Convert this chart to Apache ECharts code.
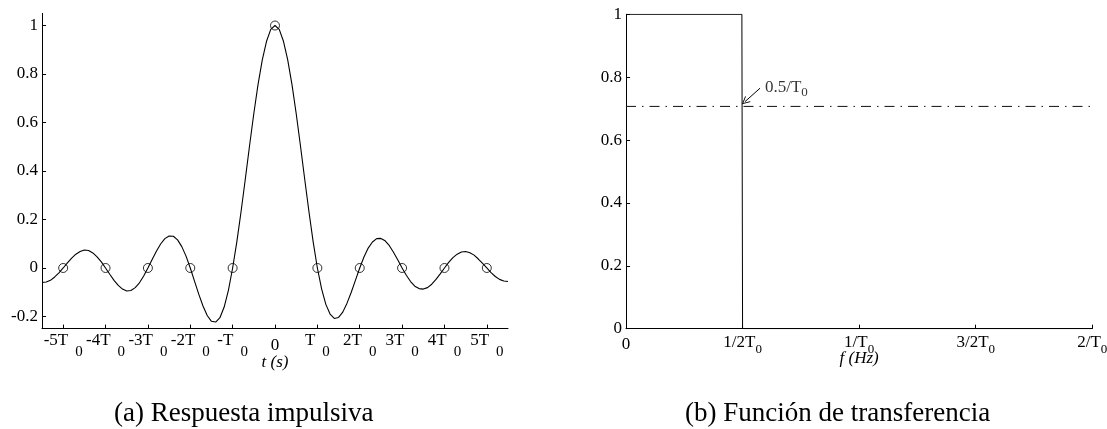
<!DOCTYPE html>
<html>
<head>
<meta charset="utf-8">
<script src="https://cdn.jsdelivr.net/npm/echarts@6/dist/echarts.min.js"></script>
<style>
  html, body { margin: 0; padding: 0; background: #fff; }
  #chart { width: 1107px; height: 429px; }
</style>
</head>
<body>
<div id="chart"></div>
<script>
// (a) impulse response h(t), sampled every 0.1 T0 from -5.5 T0 to 5.5 T0
const tStart = -5.5;
const tStep = 0.1;
const hValues = [
  -0.060, -0.058, -0.051, -0.037, -0.020, 0.000, 0.021, 0.041, 0.057, 0.068,
   0.074,  0.072,  0.062,  0.046,  0.025, 0.000, -0.026, -0.051, -0.072, -0.087,
  -0.095, -0.093, -0.081, -0.061, -0.033, 0.000, 0.035, 0.069, 0.099, 0.121,
   0.132,  0.131,  0.116,  0.088,  0.049, 0.000, -0.054, -0.108, -0.157, -0.196,
  -0.220, -0.223, -0.205, -0.161, -0.092, 0.000,
   0.109,  0.234,  0.368,  0.505,  0.637, 0.757, 0.858, 0.935, 0.984, 1.000,
   0.984,  0.935,  0.858,  0.757,  0.637, 0.505, 0.368, 0.234, 0.109,
   0.000, -0.086, -0.150, -0.190, -0.208, -0.204, -0.182, -0.145, -0.100, -0.050,
   0.000,  0.045,  0.082,  0.107,  0.121,  0.122,  0.112,  0.092,  0.064,  0.033,
   0.000, -0.030, -0.056, -0.075, -0.085, -0.087, -0.081, -0.067, -0.047, -0.024,
   0.000,  0.023,  0.043,  0.057,  0.066,  0.068,  0.063,  0.053,  0.037,  0.019,
   0.000, -0.019, -0.035, -0.047, -0.054, -0.056
];

// sampling instants marked with circles (multiples of T0)
const sampleT = [-5, -4, -3, -2, -1, 0, 1, 2, 3, 4, 5];
const sampleH = [0, 0, 0, 0, 0, 1, 0, 0, 0, 0, 0];

// tick labels of the time axis: [main text, subscript]
const tTicks = [-5, -4, -3, -2, -1, 0, 1, 2, 3, 4, 5];
const tTickLabels = [
  ['-5T', '0'], ['-4T', '0'], ['-3T', '0'], ['-2T', '0'], ['-T', '0'],
  ['0', ''],
  ['T', '0'], ['2T', '0'], ['3T', '0'], ['4T', '0'], ['5T', '0']
];
const hTicks = [-0.2, 0, 0.2, 0.4, 0.6, 0.8, 1];

// (b) transfer function |H(f)| (f in units of 1/T0)
const fValues = [0, 0.497, 0.5, 2];
const HValues = [1, 1, 0, 0];
// -3 dB reference level
const refF = [0, 2];
const refH = [0.707, 0.707];
const fTickLabels = [['0', ''], ['1/2T', '0'], ['1/T', '0'], ['3/2T', '0'], ['2/T', '0']];

// annotation "0.5/T0" with its arrow
const noteText = ['0.5/T', '0'];
const notePos = [0.596, 0.762];
const arrowFrom = [0.575, 0.765];
const arrowTo = [0.51, 0.722];

const SERIF = '"Liberation Serif", "Times New Roman", serif';
const FS = 17;

function numLabel(v) {
  if (Math.abs(v) < 1e-9) return '0';
  if (Math.abs(v - Math.round(v)) < 1e-9) return String(Math.round(v));
  return v.toFixed(1);
}

const tLabelMap = {};
tTicks.forEach((v, i) => { tLabelMap[v] = tTickLabels[i]; });

function tLabel(v) {
  const p = tLabelMap[Math.round(v)];
  if (!p) return '';
  return p[1] ? '{m|' + p[0] + '}{s|' + p[1] + '}' : '{z|' + p[0] + '}';
}

function fLabel(v) {
  const p = fTickLabels[Math.round(v / 0.5)];
  if (!p) return '';
  return p[1] ? '{m|' + p[0] + '}{s|' + p[1] + '}' : '{z|' + p[0] + '}';
}

const axisLineStyle = { show: true, onZero: false, lineStyle: { color: '#000', width: 1 } };
const tickStyle = { show: true, inside: true, length: 4, lineStyle: { color: '#000', width: 1 } };

const chart = echarts.init(document.getElementById('chart'), null, { renderer: 'canvas' });

chart.setOption({
  animation: false,
  backgroundColor: '#fff',
  title: [
    {
      text: '(a) Respuesta impulsiva',
      left: 114, top: 400, padding: 0,
      textStyle: { fontFamily: SERIF, fontSize: 27, fontWeight: 'normal', color: '#000' }
    },
    {
      text: '(b) Función de transferencia',
      left: 685, top: 400, padding: 0,
      textStyle: { fontFamily: SERIF, fontSize: 27, fontWeight: 'normal', color: '#000' }
    }
  ],
  grid: [
    { left: 42, right: 599, top: 13.4, bottom: 100.4, containLabel: false, outerBoundsMode: 'none' },
    { left: 626, right: 14.7, top: 14.3, bottom: 100.3, containLabel: false, outerBoundsMode: 'none' }
  ],
  xAxis: [
    {
      type: 'value', gridIndex: 0, min: -5.5, max: 5.5,
      axisLine: axisLineStyle,
      axisTick: Object.assign({ customValues: tTicks }, tickStyle),
      splitLine: { show: false },
      axisLabel: {
        customValues: tTicks,
        margin: 3.4,
        formatter: tLabel,
        color: '#000',
        rich: {
          m: { fontFamily: SERIF, fontSize: FS, color: '#000', verticalAlign: 'top' },
          s: { fontFamily: SERIF, fontSize: 15, color: '#000', verticalAlign: 'top', padding: [13, 0, 0, 7] },
          z: { fontFamily: SERIF, fontSize: FS, color: '#000', lineHeight: 28 }
        }
      },
      name: 't (s)',
      nameLocation: 'middle',
      nameGap: 25,
      nameMoveOverlap: false,
      nameTextStyle: { fontFamily: SERIF, fontSize: 17, fontStyle: 'italic', color: '#000' }
    },
    {
      type: 'value', gridIndex: 1, min: 0, max: 2, interval: 0.5,
      axisLine: axisLineStyle,
      axisTick: tickStyle,
      splitLine: { show: false },
      axisLabel: {
        margin: 5.5,
        formatter: fLabel,
        color: '#000',
        showMinLabel: true, showMaxLabel: true,
        rich: {
          m: { fontFamily: SERIF, fontSize: FS, color: '#000', verticalAlign: 'top' },
          s: { fontFamily: SERIF, fontSize: 13, color: '#000', verticalAlign: 'top', padding: [9, 0, 0, 0] },
          z: { fontFamily: SERIF, fontSize: FS, color: '#000', lineHeight: 21 }
        }
      },
      name: 'f (Hz)',
      nameLocation: 'middle',
      nameGap: 21,
      nameMoveOverlap: false,
      nameTextStyle: { fontFamily: SERIF, fontSize: 17, fontStyle: 'italic', color: '#000' }
    }
  ],
  yAxis: [
    {
      type: 'value', gridIndex: 0, min: -0.25, max: 1.05,
      axisLine: axisLineStyle,
      axisTick: Object.assign({ customValues: hTicks }, tickStyle),
      splitLine: { show: false },
      axisLabel: {
        customValues: hTicks,
        margin: 4,
        formatter: numLabel,
        fontFamily: SERIF, fontSize: FS, color: '#000'
      }
    },
    {
      type: 'value', gridIndex: 1, min: 0, max: 1, interval: 0.2,
      axisLine: axisLineStyle,
      axisTick: tickStyle,
      splitLine: { show: false },
      axisLabel: {
        margin: 4,
        formatter: numLabel,
        fontFamily: SERIF, fontSize: FS, color: '#000'
      }
    }
  ],
  series: [
    {
      name: 'h(t)',
      type: 'line',
      xAxisIndex: 0, yAxisIndex: 0,
      data: hValues.map((h, i) => [tStart + i * tStep, h]),
      showSymbol: false,
      symbol: 'none',
      smooth: false,
      lineStyle: { color: '#000', width: 1.1 },
      silent: true,
      z: 2
    },
    {
      name: 'muestras',
      type: 'scatter',
      xAxisIndex: 0, yAxisIndex: 0,
      data: sampleT.map((t, i) => [t, sampleH[i]]),
      symbol: 'circle',
      symbolSize: 9,
      itemStyle: { color: 'rgba(0,0,0,0)', borderColor: '#000', borderWidth: 1 },
      silent: true,
      z: 3
    },
    {
      name: '|H(f)|',
      type: 'line',
      xAxisIndex: 1, yAxisIndex: 1,
      data: fValues.map((f, i) => [f, HValues[i]]),
      showSymbol: false,
      symbol: 'none',
      lineStyle: { color: '#000', width: 1 },
      silent: true,
      markLine: {
        silent: true,
        symbol: ['none', 'path://M5,0 L10,9 L8.8,9 L5,2.2 L1.2,9 L0,9 Z'],
        symbolSize: [8, 8],
        lineStyle: { color: '#000', width: 1, type: 'solid' },
        label: { show: false },
        data: [[{ coord: arrowFrom }, { coord: arrowTo }]]
      }
    },
    {
      name: 'referencia',
      type: 'line',
      xAxisIndex: 1, yAxisIndex: 1,
      data: refF.map((f, i) => [f, refH[i]]),
      showSymbol: false,
      symbol: 'none',
      lineStyle: { color: '#111', width: 1, type: [10, 6, 1.5, 6] },
      silent: true
    },
    {
      name: 'nota',
      type: 'scatter',
      xAxisIndex: 1, yAxisIndex: 1,
      data: [notePos],
      symbolSize: 0,
      silent: true,
      label: {
        show: true,
        position: 'right',
        distance: 0,
        formatter: '{m|' + noteText[0] + '}{s|' + noteText[1] + '}',
        rich: {
          m: { fontFamily: SERIF, fontSize: FS, color: '#000', verticalAlign: 'top' },
          s: { fontFamily: SERIF, fontSize: 13, color: '#000', verticalAlign: 'top', padding: [7.5, 0, 0, 0] }
        }
      }
    }
  ]
});
</script>
</body>
</html>
